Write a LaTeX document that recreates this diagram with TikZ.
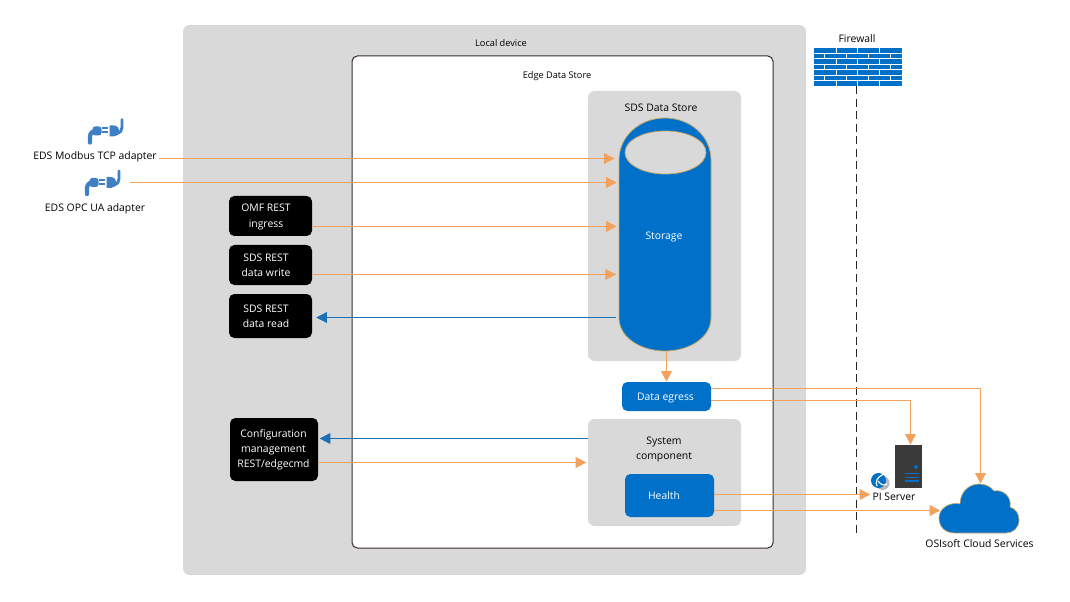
\documentclass[tikz,border=0pt]{standalone}
\usepackage{fontspec}
\setmainfont{Open Sans}
\usetikzlibrary{arrows.meta}
\definecolor{panel}{HTML}{D9D9D9}
\definecolor{azure}{HTML}{0070C9}
\definecolor{tan}{HTML}{C9A86A}
\definecolor{orangeline}{HTML}{F2A25C}
\definecolor{blueline}{HTML}{1A6FB5}
\definecolor{plugblue}{HTML}{3F7FC4}
\definecolor{serverdark}{HTML}{3A3A3A}
\definecolor{edgeline}{HTML}{3A2E2A}
\tikzset{
  x=0.75pt,y=-0.75pt,
  every node/.style={font=\fontsize{7.8pt}{11.3pt}\selectfont,align=center,inner sep=1.5pt},
  smalltext/.style={font=\fontsize{6.9pt}{10pt}\selectfont},
  panelbox/.style={fill=panel,rounded corners=5pt,inner sep=0pt},
  blackbox/.style={fill=black,rounded corners=4pt,inner sep=0pt},
  bluebox/.style={fill=azure,rounded corners=4pt,inner sep=0pt},
  whitetext/.style={text=white},
  flowout/.style={draw=orangeline,line width=1pt,-{Triangle[length=8pt,width=8pt]}},
  flowback/.style={draw=blueline,line width=1pt,-{Triangle[length=8pt,width=8pt]}},
  plugicon/.pic={
    \draw[plugblue,line width=3.2pt,line cap=round] (-15.5,11) -- (-15.5,5) .. controls (-15.5,1) and (-12,-1) .. (-8,-1);
    \fill[plugblue,rounded corners=2pt] (-13,-5) rectangle (-4,4);
    \fill[plugblue] (-4,-4) rectangle (2,-2);
    \fill[plugblue] (-4,0) rectangle (2,2);
    \fill[plugblue] (4,-6) -- (8,-6) .. controls (12,-6) and (14,-3) .. (14,0) .. controls (14,3) and (11,5) .. (8,5) -- (4,5) -- cycle;
    \draw[plugblue,line width=2.2pt,line cap=round] (11,2) .. controls (15,1) and (16.5,-1) .. (16.5,-4) -- (16.5,-12);
  }
}
\begin{document}
\begin{tikzpicture}
\useasboundingbox (0,0) rectangle (1070,602);
% containers
\node[panelbox,minimum width=623*0.75pt,minimum height=550*0.75pt] (local) at (494.5,300) {};
\node[smalltext] (locallabel) at (501,43) {Local device};
\node[draw=edgeline,fill=white,line width=0.75pt,rounded corners=4pt,minimum width=421*0.75pt,minimum height=492*0.75pt,inner sep=0pt] (eds) at (562.5,302) {};
\node[smalltext] (edslabel) at (557,76) {Edge Data Store};
\node[panelbox,minimum width=153*0.75pt,minimum height=270*0.75pt] (sds) at (664.5,226) {};
\node (sdslabel) at (661,108) {SDS Data Store};
% storage cylinder
\draw[fill=azure,draw=tan,line width=0.6pt] (619,160) .. controls (619,136) and (640,118) .. (665,118) .. controls (690,118) and (711,136) .. (711,160) -- (711,318) .. controls (711,337) and (690,351) .. (665,351) .. controls (640,351) and (619,337) .. (619,318) -- cycle;
\draw[fill=panel,draw=tan,line width=0.6pt] (665.5,152.5) ellipse [x radius=40.5,y radius=21.5];
\node[minimum width=92*0.75pt,minimum height=233*0.75pt,inner sep=0pt] (storage) at (665,234.5) {};
\node[whitetext] (storagelabel) at (664,237) {Storage};
% system
\node[panelbox,minimum width=153*0.75pt,minimum height=107*0.75pt] (system) at (664.5,472.5) {};
\node (systemlabel) at (664,449.5) {System\\component};
\node[bluebox,minimum width=89*0.75pt,minimum height=43*0.75pt] (health) at (669.5,495.5) {};
\node[whitetext] (healthlabel) at (664,495.5) {Health};
\node[bluebox,minimum width=89*0.75pt,minimum height=29*0.75pt] (egress) at (666.5,396.5) {};
\node[whitetext] (egresslabel) at (665.5,398) {Data egress};
% black boxes
\node[blackbox,minimum width=83*0.75pt,minimum height=40*0.75pt] (omf) at (270.5,216) {};
\node[whitetext] (omflabel) at (266,217) {OMF REST\\ingress};
\node[blackbox,minimum width=83*0.75pt,minimum height=40*0.75pt] (write) at (270.5,265) {};
\node[whitetext] (writelabel) at (266,265.5) {SDS REST\\data write};
\node[blackbox,minimum width=83*0.75pt,minimum height=44*0.75pt] (read) at (270.5,316) {};
\node[whitetext] (readlabel) at (266,316.5) {SDS REST\\data read};
\node[blackbox,minimum width=88*0.75pt,minimum height=63*0.75pt] (config) at (274,449.5) {};
\node[whitetext] (configlabel) at (273.5,450) {Configuration\\management\\REST/edgecmd};
% adapters
\pic at (105.5,131.5) {plugicon};
\pic at (102.5,183) {plugicon};
\node[minimum width=35*0.75pt,minimum height=24*0.75pt,inner sep=0pt] (opcplug) at (102.5,183) {};
\node (modbus) at (95,156.5) {EDS Modbus TCP adapter};
\node (opc) at (95,208.5) {EDS OPC UA adapter};
% firewall
\fill[azure] (814,48) rectangle (902,86);
\foreach \yy in {53.4,58.9,64.3,69.7,75.1,80.6}
  \draw[white,line width=0.6pt] (814,\yy) -- (902,\yy);
\foreach \yy/\xx in {48/836,48/857.5,48/879,58.9/836,58.9/857.5,58.9/879,69.7/836,69.7/857.5,69.7/879,80.6/836,80.6/857.5,80.6/879,53.4/824,53.4/846,53.4/868,53.4/890,64.3/824,64.3/846,64.3/868,64.3/890,75.1/824,75.1/846,75.1/868,75.1/890}
  \draw[white,line width=0.6pt] (\xx,\yy) -- (\xx,\yy+5.4);
\coordinate (wallbase) at (856.5,86);
\coordinate (wallfoot) at (856.5,533);
\node[minimum width=88*0.75pt,minimum height=38*0.75pt,inner sep=0pt] (wall) at (858,67) {};
\node (walllabel) at (857,39) {Firewall};
\draw[black!85,line width=0.6pt,dash pattern=on 6pt off 3.4pt] (wallbase) -- (wallfoot);
% server
\node[fill=serverdark,minimum width=27*0.75pt,minimum height=43*0.75pt,inner sep=0pt] (server) at (908.5,466.5) {};
\fill[azure] (916,467) circle (2);
\foreach \yy in {473.5,477.3,481}
  \draw[azure,line width=1pt] (905,\yy) -- (919,\yy);
\fill[gray!55] (882.5,483) circle (7);
\fill[azure] (878.5,480.5) circle (7.5);
\draw[white,line width=0.9pt] (883,474.5) .. controls (877,477) and (875,482) .. (877,486);
\draw[white,line width=0.9pt] (878,481) .. controls (881,485) and (884,486) .. (887,484);
\node (pilabel) at (894,497) {PI Server};
% cloud
\draw[fill=azure,draw=tan,line width=0.5pt] (955,533) .. controls (945,533) and (939,527) .. (939,518) .. controls (939,510) and (946,504) .. (955,503.5) .. controls (957,503.5) and (959,503.5) .. (960,504) .. controls (960,492) and (969,484) .. (979,484) .. controls (986,484) and (991,487) .. (994,491) .. controls (1003,489) and (1012,497) .. (1010,507) .. controls (1016,509) and (1019,514) .. (1019,520) .. controls (1019,528) and (1013,533) .. (1006,533) -- cycle;
\node[minimum width=80*0.75pt,minimum height=49*0.75pt,inner sep=0pt] (cloud) at (980.5,508.5) {};
\node (cloudlabel) at (979.5,544) {OSIsoft Cloud Services};
% connectors
\draw[flowout,shorten >=3pt] (modbus.east |- 0,158.5) -- (storage.west |- 0,158.5);
\draw[flowout,shorten <=7.5pt,shorten >=1.5pt] (opcplug.east |- 0,182.5) -- (storage.west |- 0,182.5);
\draw[flowout,shorten >=1.5pt] (omf.east |- 0,226.5) -- (storage.west |- 0,226.5);
\draw[flowout,shorten >=2pt] (write.east |- 0,274.5) -- (storage.west |- 0,274.5);
\draw[flowback,shorten >=3pt,shorten <=2pt] (storage.west |- 0,317.5) -- (read.east |- 0,317.5);
\draw[flowout] (storage.south -| 666.5,0) -- (egress.north -| 666.5,0);
\draw[flowout] (egress.east |- 0,388.5) -| (cloud.north);
\draw[flowout] (egress.east |- 0,400.5) -| (server.north -| 910.5,0);
\draw[flowback,shorten >=1pt] (system.west |- 0,438.5) -- (config.east |- 0,438.5);
\draw[flowout,shorten >=1pt] (config.east |- 0,462.5) -- (system.west |- 0,462.5);
\draw[flowout] (health.east |- 0,494.5) -- (pilabel.west |- 0,494.5);
\draw[flowout] (health.east |- 0,510.5) -- (cloud.west |- 0,510.5);
\end{tikzpicture}
\end{document}
